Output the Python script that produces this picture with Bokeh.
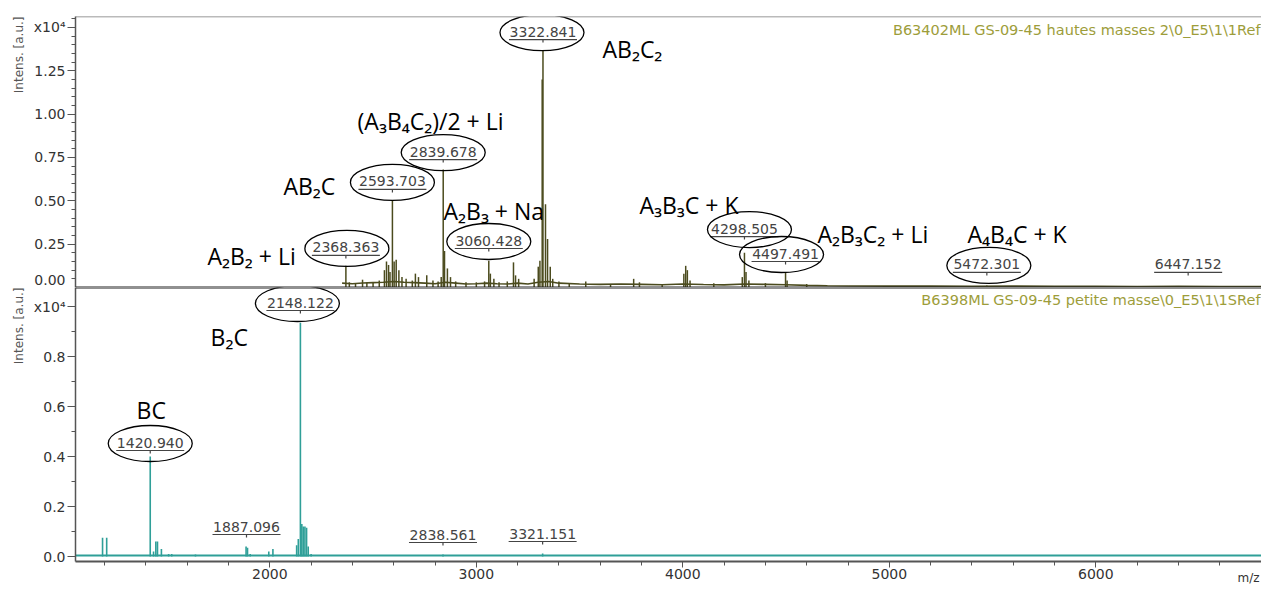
from bokeh.plotting import figure
from bokeh.layouts import column
from bokeh.models import (Range1d, FixedTicker, NumeralTickFormatter, Span, Label, Title,
                          LinearAxis)
from bokeh.core.properties import value
from bokeh.embed import file_html
from bokeh.resources import INLINE

# ---------------- data (intensities in x10^4 a.u.) ----------------
upper_peak_mz = [2368.4, 2385, 2415, 2449, 2470, 2500, 2530, 2555, 2565, 2575, 2582, 2593.7,
                 2602, 2612, 2625, 2640, 2660, 2690, 2705, 2720, 2760, 2790, 2815, 2830,
                 2839.7, 2846, 2860, 2875, 2900, 2950, 3000, 3040, 3060.4, 3068, 3085, 3110,
                 3150, 3180, 3190, 3205, 3280, 3300, 3308, 3319, 3322.8, 3335, 3345, 3358,
                 3370, 3400, 3450, 3530, 3650, 3762, 3790, 3900, 4005, 4014, 4022, 4035,
                 4150, 4288, 4298.5, 4306, 4320, 4400, 4497.5, 4505, 4600, 5472.3, 6447.2]
upper_peak_int = [0.125, 0.03, 0.025, 0.045, 0.03, 0.03, 0.04, 0.10, 0.15, 0.13, 0.09, 0.50,
                  0.15, 0.16, 0.10, 0.06, 0.05, 0.04, 0.08, 0.06, 0.07, 0.04, 0.035, 0.06,
                  0.68, 0.21, 0.11, 0.06, 0.035, 0.03, 0.03, 0.035, 0.155, 0.08, 0.05, 0.03,
                  0.035, 0.145, 0.07, 0.05, 0.05, 0.12, 0.155, 1.20, 1.37, 0.48, 0.28, 0.12,
                  0.05, 0.035, 0.025, 0.035, 0.02, 0.05, 0.03, 0.02, 0.08, 0.125, 0.10, 0.04,
                  0.025, 0.06, 0.20, 0.09, 0.04, 0.025, 0.087, 0.04, 0.02, 0.012, 0.008]
upper_base_mz = [2350, 2400, 2450, 2500, 2550, 2600, 2650, 2700, 2750, 2800, 2850, 2900,
                 2950, 3000, 3050, 3100, 3150, 3200, 3250, 3300, 3350, 3400, 3500, 3600,
                 3700, 3800, 3900, 4000, 4100, 4200, 4300, 4400, 4500, 4600, 4700, 4800,
                 5000, 5200, 5400, 5600, 5800, 6000, 6200, 6400, 6600, 6810]
upper_base_int = [0.025, 0.022, 0.026, 0.028, 0.03, 0.035, 0.03, 0.028, 0.025, 0.022, 0.03, 0.025,
                  0.02, 0.022, 0.025, 0.022, 0.02, 0.025, 0.02, 0.03, 0.035, 0.025, 0.02, 0.018,
                  0.02, 0.018, 0.016, 0.02, 0.017, 0.015, 0.02, 0.018, 0.016, 0.012, 0.01, 0.009,
                  0.008, 0.008, 0.007, 0.008, 0.007, 0.007, 0.006, 0.007, 0.006, 0.006]

lower_peak_mz = [1190, 1210, 1420.9, 1437, 1448, 1456, 1475, 1510, 1525, 1640, 1885, 1892,
                 1905, 1995, 2015, 2130, 2138, 2148.1, 2155, 2162, 2170, 2178, 2186, 2200,
                 2838.6, 3321.2]
lower_peak_int = [0.075, 0.075, 0.40, 0.02, 0.06, 0.06, 0.03, 0.01, 0.01, 0.008, 0.04, 0.035,
                  0.01, 0.02, 0.03, 0.045, 0.07, 0.935, 0.13, 0.12, 0.12, 0.115, 0.04, 0.01,
                  0.008, 0.012]
lower_base_mz = [1050, 6810]
lower_base_int = [0.004, 0.004]

# peak annotations (numbers)
up_lab_text = ["2368.363", "2593.703", "2839.678", "3060.428", "3322.841",
               "4298.505", "4497.491", "5472.301", "6447.152"]
up_lab_mz = [2368.363, 2593.703, 2839.678, 3060.428, 3322.841, 4298.505, 4497.491, 5472.301, 6447.152]
up_lab_y = [0.231, 0.612, 0.784, 0.271, 1.476, 0.340, 0.196, 0.133, 0.133]
up_lab_ring = [True, True, True, True, True, True, True, True, False]
up_ring_dx = [1, 0, 0, 0, -1, 5, -4, 2, 0]

lo_lab_text = ["1420.940", "1887.096", "2148.122", "2838.561", "3321.151"]
lo_lab_mz = [1420.940, 1887.096, 2148.122, 2838.561, 3321.151]
lo_lab_y = [0.456, 0.12, 1.016, 0.088, 0.092]
lo_lab_ring = [True, False, True, False, False]
lo_ring_dx = [0, 0, -3, 0, 0]

# species annotations
up_form_text = ["AB₂C₂", "(A₃B₄C₂)/2 + Li", "AB₂C", "A₂B₃ + Na", "A₂B₂ + Li",
                "A₃B₃C + K", "A₂B₃C₂ + Li", "A₄B₄C + K"]
up_form_mz = [3611, 2425, 2066, 2841, 1698, 3790, 4652, 5379]
up_form_y = [1.378, 0.963, 0.588, 0.444, 0.179, 0.473, 0.311, 0.311]
lo_form_text = ["B₂C", "BC"]
lo_form_mz = [1713, 1355]
lo_form_y = [0.88, 0.588]

up_yticks = [0.0, 0.25, 0.5, 0.75, 1.0, 1.25, 1.5]
lo_yticks = [0.0, 0.2, 0.4, 0.6, 0.8, 1.0]
xticks = [2000, 3000, 4000, 5000, 6000]

# ---------------- layout ----------------
FW = 1186
X0 = 1059.0
X1 = X0 + FW / 0.2065
PX_X = FW / (X1 - X0)
UP_H = 271
UP_Y = (0.0, 1.563)
LO_H = 274
LO_Y = (-0.02, -0.02 + 274 / 250.0)
PX_UP = UP_H / (UP_Y[1] - UP_Y[0])
PX_LO = LO_H / (LO_Y[1] - LO_Y[0])

UP_COL = "#4b4b1e"
LO_COL = "#2f9f98"
TITLE_COL = "#9d9d3a"
NUM_COL = "#444444"
AX_COL = "#555555"


def style_yaxis(p, ticks, minor, fmt, top_tick):
    ax = p.yaxis[0]
    ax.ticker = FixedTicker(ticks=ticks, minor_ticks=minor)
    ax.formatter = NumeralTickFormatter(format=fmt)
    ax.major_label_overrides = {top_tick: "x10⁴"}
    ax.major_label_text_font = "DejaVu Sans"
    ax.major_label_text_font_size = "14px"
    ax.major_label_text_color = "#333333"
    ax.major_label_standoff = 2
    ax.major_tick_out = 8
    ax.major_tick_in = 0
    ax.minor_tick_out = 4
    ax.minor_tick_in = 0
    ax.axis_line_color = AX_COL
    ax.axis_line_width = 1.5
    ax.major_tick_line_color = AX_COL
    ax.minor_tick_line_color = AX_COL
    p.add_layout(Title(text="Intens. [a.u.]", align="right", text_font="DejaVu Sans",
                       text_font_size="12px", text_font_style="normal",
                       text_color=AX_COL), "left")


def annotate_numbers(p, texts, mzs, ys, rings, dxs, pxy):
    hw = 34 / PX_X
    for t, mz, y, r, dx in zip(texts, mzs, ys, rings, dxs):
        p.text(x=[mz], y=[y], text=[t], text_align="center", text_baseline="middle",
               text_font=value("DejaVu Sans"), text_font_size="14px", text_color=NUM_COL)
        uy = y - 8 / pxy
        p.segment(x0=[mz - hw], y0=[uy], x1=[mz + hw], y1=[uy], line_color=NUM_COL, line_width=1.2)
        p.segment(x0=[mz], y0=[uy], x1=[mz], y1=[uy - 3 / pxy], line_color=NUM_COL, line_width=1.2)
        if r:
            p.ellipse(x=[mz + dx / PX_X], y=[y - 1 / pxy], width=84, height=36,
                      width_units="screen", height_units="screen",
                      fill_color=None, line_color="black", line_width=1.3)


def annotate_formulas(p, texts, mzs, ys):
    p.text(x=mzs, y=ys, text=texts, text_align="left", text_baseline="alphabetic",
           text_font=value("Open Sans"), text_font_size="23px", text_color="black")


# ---------------- upper panel ----------------
p1 = figure(frame_width=FW, frame_height=UP_H, x_range=Range1d(X0, X1),
            y_range=Range1d(*UP_Y), output_backend="svg", toolbar_location=None,
            x_axis_location=None, min_border_left=75, min_border_right=0,
            min_border_top=16, min_border_bottom=0)
p1.grid.visible = False
p1.outline_line_color = None
style_yaxis(p1, up_yticks, [round(0.05 * i, 2) for i in range(0, 32)], "0.00", 1.5)

p1.segment(x0=upper_peak_mz, y0=[0.0] * len(upper_peak_mz), x1=upper_peak_mz, y1=upper_peak_int,
           line_color=UP_COL, line_width=1.5)
p1.line(upper_base_mz, upper_base_int, line_color=UP_COL, line_width=1.6)
annotate_numbers(p1, up_lab_text, up_lab_mz, up_lab_y, up_lab_ring, up_ring_dx, PX_UP)
annotate_formulas(p1, up_form_text, up_form_mz, up_form_y)

p1.add_layout(Span(location=UP_Y[1], dimension="width", line_color="#777777", line_width=1.5))
p1.add_layout(Span(location=UP_Y[0], dimension="width", line_color="#222222", line_width=2))
p1.add_layout(Label(x=X1, y=1.488, text="B63402ML GS-09-45 hautes masses 2\\0_E5\\1\\1Ref",
                    text_align="right", text_baseline="middle", x_offset=-1,
                    text_font="DejaVu Sans", text_font_size="14.5px", text_color=TITLE_COL))

# ---------------- lower panel ----------------
p2 = figure(frame_width=FW, frame_height=LO_H, x_range=p1.x_range,
            y_range=Range1d(*LO_Y), output_backend="svg", toolbar_location=None,
            min_border_left=75, min_border_right=0, min_border_top=0, min_border_bottom=0)
p2.grid.visible = False
p2.outline_line_color = None
style_yaxis(p2, lo_yticks, [round(0.1 * i, 1) for i in range(0, 11)], "0.0", 1.0)

xa = p2.xaxis[0]
xa.ticker = FixedTicker(ticks=xticks, minor_ticks=list(range(1200, 6800, 200)))
xa.major_label_text_font = "DejaVu Sans"
xa.major_label_text_font_size = "14px"
xa.major_label_text_color = "#333333"
xa.major_label_standoff = 1
xa.major_tick_out = 6
xa.major_tick_in = 0
xa.minor_tick_out = 4
xa.minor_tick_in = 0
xa.axis_line_color = AX_COL
xa.axis_line_width = 2
xa.major_tick_line_color = AX_COL
xa.minor_tick_line_color = AX_COL

# "m/z" unit text at the far right under the axis
mz_axis = LinearAxis(ticker=FixedTicker(ticks=[6740]), major_label_overrides={6740: "m/z"},
                     major_tick_line_color=None, minor_tick_line_color=None,
                     axis_line_color=None, major_tick_out=0, major_tick_in=0,
                     major_label_standoff=-11, major_label_text_font="DejaVu Sans",
                     major_label_text_font_size="12px", major_label_text_color="#333333")
p2.add_layout(mz_axis, "below")

p2.segment(x0=lower_peak_mz, y0=[0.0] * len(lower_peak_mz), x1=lower_peak_mz, y1=lower_peak_int,
           line_color=LO_COL, line_width=1.6)
p2.line(lower_base_mz, lower_base_int, line_color=LO_COL, line_width=1.8)
annotate_numbers(p2, lo_lab_text, lo_lab_mz, lo_lab_y, lo_lab_ring, lo_ring_dx, PX_LO)
annotate_formulas(p2, lo_form_text, lo_form_mz, lo_form_y)

p2.add_layout(Span(location=LO_Y[1], dimension="width", line_color="#222222", line_width=2))
p2.add_layout(Label(x=X1, y=1.028, text="B6398ML GS-09-45 petite masse\\0_E5\\1\\1SRef",
                    text_align="right", text_baseline="middle", x_offset=-1,
                    text_font="DejaVu Sans", text_font_size="14.5px", text_color=TITLE_COL))

layout = column(p1, p2, spacing=0)
open("out.html", "w").write(file_html(layout, INLINE))
